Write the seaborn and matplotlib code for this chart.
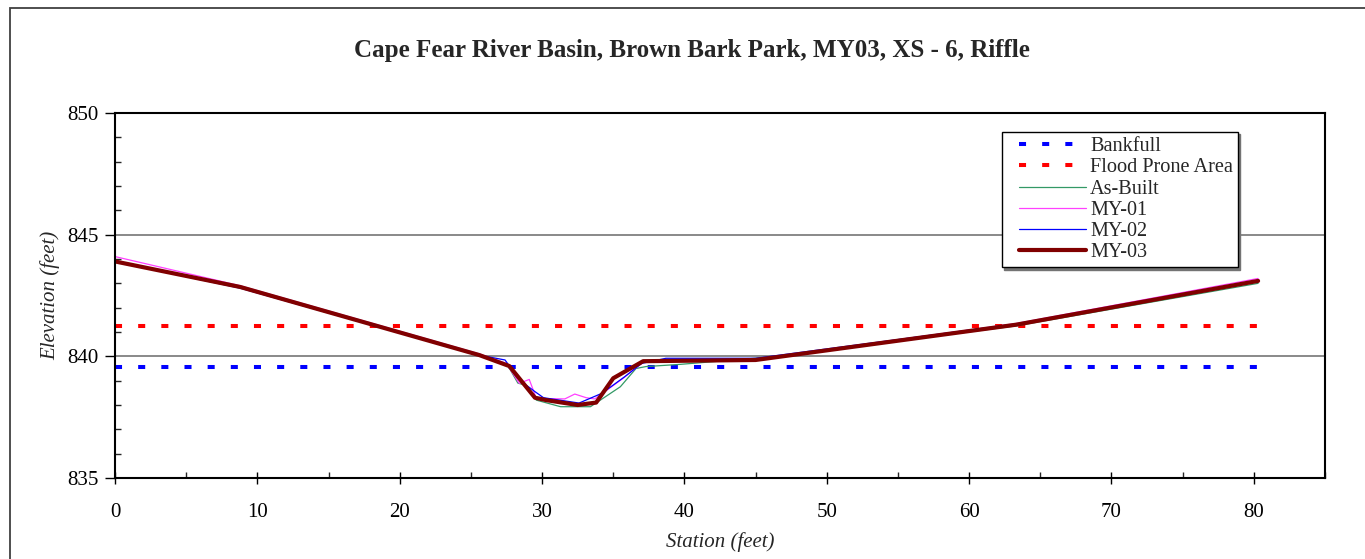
import matplotlib
matplotlib.use("Agg")
import matplotlib.pyplot as plt
from matplotlib.patches import Rectangle
from matplotlib.ticker import MultipleLocator
from matplotlib.legend_handler import HandlerLine2D
from matplotlib.lines import Line2D
import seaborn as sns
import pandas as pd

# Cross-section survey data (station in feet, elevation in feet)
asbuilt_sta = [0, 8.8, 25.6, 27.6, 28.3, 28.8, 29.6, 31.3, 33.4, 35.5, 36.6, 37.3, 39.7, 46.0, 63.3, 80.3]
asbuilt_elev = [843.9, 842.85, 840.05, 839.62, 838.9, 838.82, 838.2, 837.93, 837.93, 838.75, 839.5, 839.58, 839.67, 839.97, 841.25, 843.0]

my01_sta = [0, 8.8, 25.6, 27.5, 28.4, 29.1, 29.6, 31.6, 32.3, 33.1, 33.7, 35.7, 36.6, 37.1, 45.0, 63.3, 80.3]
my01_elev = [844.1, 842.9, 840.1, 839.71, 838.89, 839.05, 838.27, 838.25, 838.45, 838.3, 838.25, 839.1, 839.53, 839.75, 839.88, 841.35, 843.2]

my02_sta = [0, 8.8, 25.6, 27.4, 28.4, 29.5, 30.1, 32.6, 34.2, 35.8, 37.0, 38.7, 45.0, 63.3, 80.3]
my02_elev = [843.9, 842.8, 840.05, 839.85, 839.03, 838.55, 838.3, 838.08, 838.48, 839.16, 839.71, 839.92, 839.92, 841.33, 843.12]

my03_sta = [0, 8.8, 25.6, 27.7, 29.5, 30.3, 32.5, 33.8, 35.0, 37.1, 45.0, 63.3, 80.3]
my03_elev = [843.9, 842.85, 840.05, 839.6, 838.3, 838.2, 838.0, 838.1, 839.1, 839.8, 839.85, 841.3, 843.1]

bankfull_sta = [0, 80.3]
bankfull_elev = [839.56, 839.56]
floodprone_sta = [0, 80.3]
floodprone_elev = [841.25, 841.25]

sns.set_style("white")
plt.rcParams["font.family"] = ["Liberation Serif", "DejaVu Serif"]

fig = plt.figure(figsize=(13.65, 5.59), dpi=100)
ax = fig.add_axes([115 / 1365, 1 - 478 / 559, 1210 / 1365, 365 / 559])

# outer chart frame (only top and left edges fall inside the image)
fig.patches.append(Rectangle((10 / 1365, -0.2), 1.2, 1.2 - 8 / 559,
                             transform=fig.transFigure, fill=False,
                             edgecolor="#404040", linewidth=1.3, zorder=0))

ax.axhline(845, color="#808080", lw=1.3, zorder=0)
ax.axhline(840, color="#808080", lw=1.3, zorder=0)

def frame(sta, elev):
    return pd.DataFrame({"Station": sta, "Elevation": elev})

dash = (0, (1.75, 4.0))
sns.lineplot(data=frame(bankfull_sta, bankfull_elev), x="Station", y="Elevation", ax=ax,
             color="#0000FF", lw=2.9, linestyle=dash, sort=False, estimator=None, label="Bankfull")
sns.lineplot(data=frame(floodprone_sta, floodprone_elev), x="Station", y="Elevation", ax=ax,
             color="#FF0000", lw=2.9, linestyle=dash, sort=False, estimator=None, label="Flood Prone Area")
sns.lineplot(data=frame(asbuilt_sta, asbuilt_elev), x="Station", y="Elevation", ax=ax,
             color="#339966", lw=0.9, sort=False, estimator=None, label="As-Built")
sns.lineplot(data=frame(my01_sta, my01_elev), x="Station", y="Elevation", ax=ax,
             color="#FF40FF", lw=0.9, sort=False, estimator=None, label="MY-01")
sns.lineplot(data=frame(my02_sta, my02_elev), x="Station", y="Elevation", ax=ax,
             color="#0000FF", lw=0.9, sort=False, estimator=None, label="MY-02")
sns.lineplot(data=frame(my03_sta, my03_elev), x="Station", y="Elevation", ax=ax,
             color="#800000", lw=3.0, sort=False, estimator=None, label="MY-03")

ax.set_xlim(0, 85)
ax.set_ylim(835, 850)
ax.xaxis.set_major_locator(MultipleLocator(10))
ax.xaxis.set_minor_locator(MultipleLocator(5))
ax.yaxis.set_major_locator(MultipleLocator(5))
ax.yaxis.set_minor_locator(MultipleLocator(1))
ax.tick_params(axis="both", which="major", direction="inout", length=8, width=1,
               labelsize=15, colors="black", left=True, bottom=True)
ax.tick_params(axis="x", which="major", pad=14)
ax.tick_params(axis="both", which="minor", direction="in", length=4, width=1,
               left=True, bottom=True)
ax.tick_params(axis="y", which="major", direction="out", length=7, pad=5)

for s in ax.spines.values():
    s.set_visible(True)
    s.set_color("black")
    s.set_linewidth(1.5)

ax.set_xlabel("Station (feet)", fontsize=15, fontstyle="italic", labelpad=7)
ax.set_ylabel("Elevation (feet)", fontsize=15, fontstyle="italic", labelpad=5)

fig.text(692 / 1365, 1 - 50 / 559, "Cape Fear River Basin, Brown Bark Park, MY03, XS - 6, Riffle",
         ha="center", va="center", fontsize=18, fontweight="bold")


class InsetLineHandler(HandlerLine2D):
    """Legend line sample that leaves a small gap at its left end."""
    inset = 9.0

    def create_artists(self, legend, orig_handle, xdescent, ydescent,
                       width, height, fontsize, trans):
        return super().create_artists(legend, orig_handle, xdescent - self.inset,
                                      ydescent, width - self.inset, height,
                                      fontsize, trans)


leg = ax.legend(loc="upper left", bbox_to_anchor=(0.733, 0.948), fontsize=14.6,
                handlelength=3.9, handletextpad=0.2, labelspacing=0.1,
                borderpad=0.25, frameon=True, fancybox=False,
                shadow={"ox": 1.5, "oy": -1.5, "color": "0.45", "alpha": 1.0},
                borderaxespad=0, handler_map={Line2D: InsetLineHandler()})
leg.get_frame().set_edgecolor("black")
leg.get_frame().set_linewidth(1.0)

fig.savefig("out.png", dpi=100)
